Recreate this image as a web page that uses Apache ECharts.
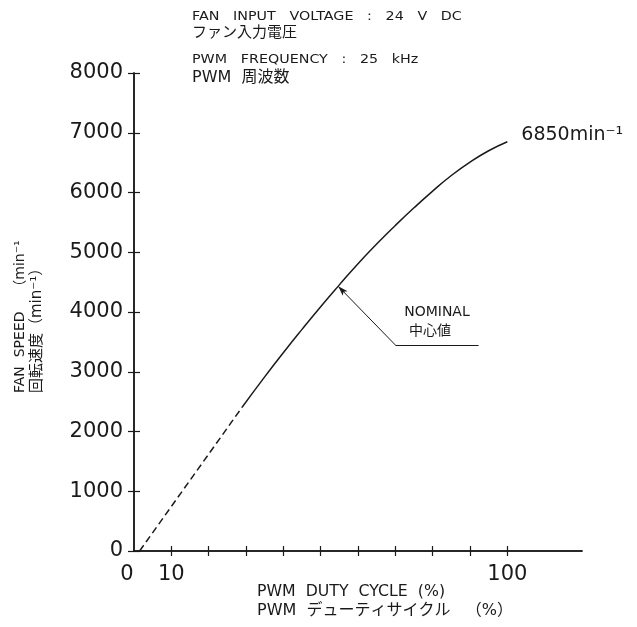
<!DOCTYPE html>
<html>
<head>
<meta charset="utf-8">
<script src="https://cdn.jsdelivr.net/npm/echarts@6/dist/echarts.min.js"></script>
<style>
  html, body { margin: 0; padding: 0; background: #fff; }
  #chart { width: 637px; height: 627px; }
</style>
</head>
<body>
<div id="chart"></div>
<script>
// データ (PWM デューティ %, 回転速度 min-1)
var dutyDashed = [1.5, 29];
var speedDashed = [0, 2410];
var dutySolid = [29, 35, 40, 45, 50, 55, 60, 65, 70, 75, 80, 85, 90, 95, 100];
var speedSolid = [2410, 2914, 3319, 3709, 4089, 4454, 4809, 5139, 5449, 5744, 6024, 6284, 6509, 6699, 6850];
var xLabelValues = [0, 10, 100];
var xTickValues = [10, 20, 30, 40, 50, 60, 70, 80, 90, 100];
var nominalPoint = [54.7, 4430];
var nominalElbow = [70, 3448];
var nominalEnd = [92.3, 3448];

var FONT = 'DejaVu Sans, Noto Sans CJK JP, sans-serif';
var INK = '#1a1a1a';

function pairs(xs, ys) {
    var out = [];
    for (var i = 0; i < xs.length; i++) out.push([xs[i], ys[i]]);
    return out;
}

var baseX = {
    type: 'value', min: 0, max: 120, interval: 10,
    axisLine: { lineStyle: { color: INK, width: 1.5 } },
    splitLine: { show: false }
};
var baseY = {
    type: 'value', min: 0, max: 8000, interval: 1000,
    axisLine: { show: true, lineStyle: { color: INK, width: 1.5 } },
    splitLine: { show: false }
};

// 上部の注記テキスト
function note(x, y, text, size, sx) {
    return {
        type: 'text', x: x, y: y, scaleX: sx || 1,
        style: { text: text, font: size + 'px ' + FONT, fill: INK, verticalAlign: 'top' }
    };
}

var option = {
    animation: false,
    backgroundColor: '#fff',
    grid: { left: 134, right: 55, top: 73, bottom: 76 },
    xAxis: [
        Object.assign({}, baseX, {
            axisTick: { show: true, customValues: xTickValues, length: 5, lineStyle: { color: INK, width: 1.2 } },
            axisLabel: {
                customValues: xLabelValues, fontFamily: FONT, fontSize: 21, color: INK, margin: 13,
                formatter: function (v) { return v === 0 ? '{z|0}' : String(v); },
                rich: { z: { fontFamily: FONT, fontSize: 21, color: INK, padding: [0, 14, 0, 0] } }
            }
        }),
        Object.assign({}, baseX, {
            position: 'bottom',
            axisTick: { show: true, inside: true, customValues: xTickValues, length: 5, lineStyle: { color: INK, width: 1.2 } },
            axisLabel: { show: false }
        })
    ],
    yAxis: [
        Object.assign({}, baseY, {
            axisTick: { show: true, length: 6, lineStyle: { color: INK, width: 1.2 } },
            axisLabel: {
                fontFamily: FONT, fontSize: 21, color: INK, margin: 11,
                formatter: function (v) { return String(v); }
            }
        }),
        Object.assign({}, baseY, {
            position: 'left',
            axisTick: { show: true, inside: true, length: 6, lineStyle: { color: INK, width: 1.2 } },
            axisLabel: { show: false }
        })
    ],
    series: [
        {
            type: 'line',
            data: pairs(dutyDashed, speedDashed),
            showSymbol: false,
            lineStyle: { color: INK, width: 1.5, type: [7, 4] }
        },
        {
            type: 'line',
            data: pairs(dutySolid, speedSolid),
            smooth: true,
            showSymbol: false,
            lineStyle: { color: INK, width: 1.5 },
            endLabel: {
                show: true,
                distance: 14,
                offset: [0, -7],
                formatter: '6850min⁻¹',
                fontFamily: FONT,
                fontSize: 19,
                color: INK
            },
            markLine: {
                silent: true,
                symbol: 'none',
                lineStyle: { color: INK, width: 1, type: 'solid' },
                label: { show: false },
                data: [
                    [
                        { coord: nominalPoint, symbol: 'arrow', symbolSize: [5, 10] },
                        { coord: nominalElbow, symbol: 'none' }
                    ],
                    [
                        { coord: nominalElbow, symbol: 'none' },
                        {
                            coord: nominalEnd, symbol: 'none',
                            label: {
                                show: true,
                                position: 'insideMiddleTop',
                                distance: 4,
                                formatter: 'NOMINAL\n中心値　',
                                fontFamily: FONT,
                                fontSize: 14,
                                lineHeight: 19,
                                color: INK
                            }
                        }
                    ]
                ]
            }
        }
    ],
    graphic: [
        note(192, 10, 'FAN   INPUT   VOLTAGE   :   24   V   DC', 13, 1.1),
        note(192, 26, 'ファン入力電圧', 15),
        note(192, 53, 'PWM   FREQUENCY   :   25   kHz', 13, 1.1),
        note(192, 70, 'PWM  周波数', 16),
        note(257, 585, 'PWM  DUTY  CYCLE  (%)', 15, 1.05),
        note(257, 603, 'PWM  デューティサイクル   （%）', 16),
        {
            type: 'text', x: 13, y: 393, rotation: Math.PI / 2,
            style: { text: 'FAN  SPEED    （min⁻¹', font: '14px ' + FONT, fill: INK, align: 'left', verticalAlign: 'top' }
        },
        {
            type: 'text', x: 30, y: 393, rotation: Math.PI / 2,
            style: { text: '回転速度（min⁻¹）', font: '15px ' + FONT, fill: INK, align: 'left', verticalAlign: 'top' }
        }
    ]
};

var chart = echarts.init(document.getElementById('chart'));
chart.setOption(option);
</script>
</body>
</html>
